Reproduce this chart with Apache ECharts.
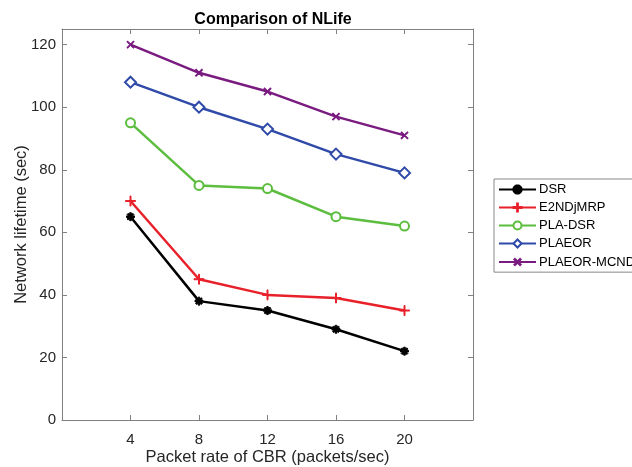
<!DOCTYPE html>
<html lang="en">
<head>
    <meta charset="UTF-8">
    <title>Comparison of NLife</title>
    <script src="https://cdn.jsdelivr.net/npm/echarts@6/dist/echarts.min.js"></script>
    <style>
        html, body { margin: 0; padding: 0; background: #fff; }
    </style>
</head>
<body>
<div id="main" style="width:632px;height:467px;"></div>
<script>
    // data
    var rates = [4, 8, 12, 16, 20];
    var dsr = [65, 38, 35, 29, 22];
    var e2ndjmrp = [70, 45, 40, 39, 35];
    var plaDsr = [95, 75, 74, 65, 62];
    var plaeor = [108, 100, 93, 85, 79];
    var plaeorMcnd = [120, 111, 105, 97, 91];

    var plusPath = 'path://M-1,-0.1H1V0.1H-1Z M-0.1,-1H0.1V1H-0.1Z';
    var starPath = 'path://M-1,-0.2H1V0.2H-1Z M-0.2,-1H0.2V1H-0.2Z M-0.85,-0.57L-0.57,-0.85L0.85,0.57L0.57,0.85Z M0.57,-0.85L0.85,-0.57L-0.57,0.85L-0.85,0.57Z';

    function pairs(vals) {
        var out = [];
        for (var i = 0; i < rates.length; i++) {
            out.push([rates[i], vals[i]]);
        }
        return out;
    }

    function mkSeries(name, vals, color, symbol, size, bw, rotate) {
        return {
            name: name,
            type: 'line',
            data: pairs(vals),
            symbol: symbol,
            symbolSize: size,
            symbolRotate: rotate || 0,
            showAllSymbol: true,
            lineStyle: { color: color, width: 2.5 },
            itemStyle: { color: color, borderColor: color, borderWidth: bw },
            emphasis: { disabled: true }
        };
    }

    var font = 'Arial, "Liberation Sans", sans-serif';
    var axisGray = '#808080';
    // ticks point into the plot like matlab, box on all 4 sides
    var tick = { show: true, inside: true, length: 5, lineStyle: { color: axisGray } };
    var line = { show: true, onZero: false, lineStyle: { color: axisGray } };
    var chart = echarts.init(document.getElementById('main'));

    chart.setOption({
        animation: false,
        textStyle: { fontFamily: font },
        title: {
            text: 'Comparison of NLife',
            left: 268,
            textAlign: 'center',
            top: 7,
            textStyle: { fontSize: 16, fontWeight: 'bold', color: '#000', fontFamily: font }
        },
        legend: {
            orient: 'vertical',
            left: 494,
            top: 179,
            padding: [4, 4, 3, 4],
            itemWidth: 37,
            itemHeight: 10,
            itemGap: 5,
            borderColor: '#888',
            borderWidth: 1,
            backgroundColor: '#fff',
            textStyle: { fontSize: 13, color: '#000', fontFamily: font, padding: [0, 0, 0, -2] },
            data: ['DSR', 'E2NDjMRP', 'PLA-DSR', 'PLAEOR', 'PLAEOR-MCND']
        },
        grid: {
            left: 62,
            right: 159,
            top: 29,
            bottom: 47,
            outerBoundsMode: 'none'
        },
        xAxis: [{
            type: 'value',
            min: 0,
            max: 24,
            interval: 4,
            name: 'Packet rate of CBR (packets/sec)',
            nameLocation: 'middle',
            nameGap: 29,
            nameMoveOverlap: false,
            nameTextStyle: { fontSize: 16.5, color: '#262626' },
            axisLine: line,
            axisTick: tick,
            axisLabel: {
                fontSize: 15, color: '#262626', margin: 12,
                formatter: function (v) { return (v === 0 || v === 24) ? '' : v; }
            },
            splitLine: { show: false }
        }, {
            type: 'value',
            position: 'top',
            min: 0,
            max: 24,
            interval: 4,
            axisLine: line,
            axisTick: tick,
            axisLabel: { show: false },
            splitLine: { show: false }
        }],
        yAxis: [{
            type: 'value',
            min: 0,
            max: 125,
            interval: 20,
            name: 'Network lifetime (sec)',
            nameLocation: 'middle',
            nameGap: 32,
            nameMoveOverlap: false,
            nameTextStyle: { fontSize: 16.5, color: '#262626' },
            axisLine: line,
            axisTick: tick,
            axisLabel: { fontSize: 15, color: '#262626', margin: 6, showMaxLabel: false },
            splitLine: { show: false }
        }, {
            type: 'value',
            position: 'right',
            min: 0,
            max: 125,
            interval: 20,
            axisLine: line,
            axisTick: tick,
            axisLabel: { show: false },
            splitLine: { show: false }
        }],
        series: [
            mkSeries('DSR', dsr, '#000000', starPath, 8, 1),
            mkSeries('E2NDjMRP', e2ndjmrp, '#e8202a', plusPath, 10, 1),
            mkSeries('PLA-DSR', plaDsr, '#5cbd3f', 'emptyCircle', 9, 2),
            mkSeries('PLAEOR', plaeor, '#2f4aa8', 'emptyDiamond', 11, 2),
            mkSeries('PLAEOR-MCND', plaeorMcnd, '#7a1b80', plusPath, 9, 1, 45)
        ]
    });
</script>
</body>
</html>
